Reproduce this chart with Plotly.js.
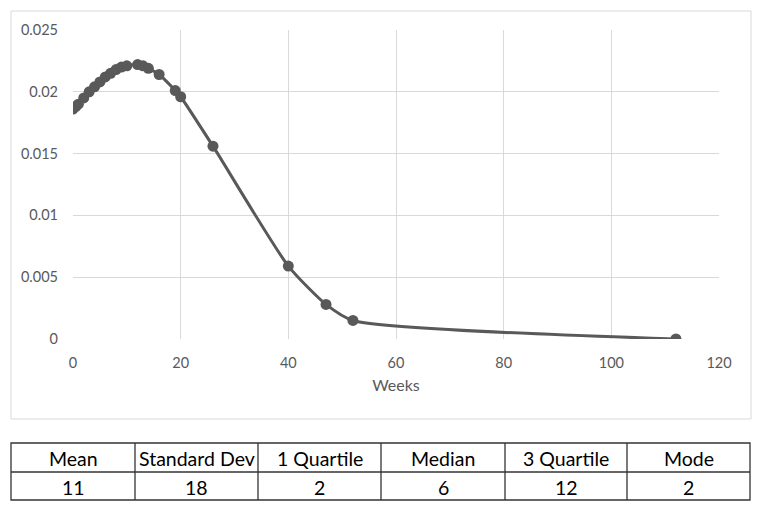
<!DOCTYPE html>
<html>
<head>
<meta charset="utf-8">
<script src="https://cdn.plot.ly/plotly-3.0.1.min.js"></script>
<style>html,body{margin:0;padding:0;background:#fff;}#chart{width:762px;height:510px;}</style>
</head>
<body>
<div id="chart"></div>
<script>
// Data
const weeks = [0, 0.5, 1, 2, 3, 4, 5, 6, 7, 8, 9, 10, 12, 13, 14, 16, 19, 20, 26, 40, 47, 52, 112];
const density = [0.0186, 0.0188, 0.0190, 0.0195, 0.0200, 0.0204, 0.0208, 0.0212, 0.0215, 0.0218, 0.0220, 0.0221, 0.0222, 0.0221, 0.0219, 0.0214, 0.0201, 0.0196, 0.0156, 0.0059, 0.0028, 0.0015, 0.0000];
const xTicks = [0, 20, 40, 60, 80, 100, 120];
const yTicks = [0, 0.005, 0.01, 0.015, 0.02, 0.025];
const yTickLabels = ['0', '0.005', '0.01', '0.015', '0.02', '0.025'];
const statNames = ['Mean', 'Standard Dev', '1 Quartile', 'Median', '3 Quartile', 'Mode'];
const statValues = ['11', '18', '2', '6', '12', '2'];

const W = 762, H = 510;
const px = v => v / W;
const py = v => 1 - v / H;

const shapes = [];
const annotations = [];
// outer chart border
shapes.push({type: 'rect', xref: 'paper', yref: 'paper', x0: px(11), x1: px(751), y0: py(11), y1: py(419),
  line: {color: '#d9d9d9', width: 1}, fillcolor: 'rgba(0,0,0,0)', layer: 'below'});

// table
const colEdges = [11, 135, 258, 381, 505, 627, 750];
const rowEdges = [443, 472, 500];
shapes.push({type: 'rect', xref: 'paper', yref: 'paper', x0: px(colEdges[0]), x1: px(colEdges[6]), y0: py(rowEdges[0]), y1: py(rowEdges[2]),
  line: {color: '#333333', width: 1.3}});
shapes.push({type: 'line', xref: 'paper', yref: 'paper', x0: px(colEdges[0]), x1: px(colEdges[6]), y0: py(rowEdges[1]), y1: py(rowEdges[1]),
  line: {color: '#333333', width: 1.3}});
for (let i = 1; i < colEdges.length - 1; i++) {
  shapes.push({type: 'line', xref: 'paper', yref: 'paper', x0: px(colEdges[i]), x1: px(colEdges[i]), y0: py(rowEdges[0]), y1: py(rowEdges[2]),
    line: {color: '#333333', width: 1.3}});
}
statNames.forEach((name, i) => {
  const cx = (colEdges[i] + colEdges[i + 1]) / 2;
  annotations.push({xref: 'paper', yref: 'paper', x: px(cx), y: py((rowEdges[0] + rowEdges[1]) / 2 + 1), text: name,
    showarrow: false, xanchor: 'center', yanchor: 'middle', font: {family: 'Lato, sans-serif', size: 19.5, color: '#000'}});
  annotations.push({xref: 'paper', yref: 'paper', x: px(cx), y: py((rowEdges[1] + rowEdges[2]) / 2 + 1), text: statValues[i],
    showarrow: false, xanchor: 'center', yanchor: 'middle', font: {family: 'Lato, sans-serif', size: 19.5, color: '#000'}});
});

const trace = {
  x: weeks, y: density, type: 'scatter', mode: 'lines+markers',
  line: {color: '#595959', width: 3, shape: 'spline', smoothing: 0.6},
  marker: {color: '#595959', size: 11},
  hoverinfo: 'skip', showlegend: false
};

const layout = {
  width: W, height: H,
  margin: {l: 0, r: 0, t: 0, b: 0},
  paper_bgcolor: '#ffffff', plot_bgcolor: '#ffffff',
  font: {family: 'Lato, sans-serif', color: '#595959', size: 14.5},
  xaxis: {
    domain: [px(73), px(719)], range: [0, 120], tickvals: xTicks, ticktext: xTicks.map(String),
    showgrid: true, gridcolor: '#d9d9d9', gridwidth: 1, zeroline: false, showline: false,
    ticks: '', ticklen: 0, tickfont: {size: 14.5, color: '#595959'}, ticklabelstandoff: 13,
    title: {text: 'Weeks', font: {size: 16, color: '#595959'}, standoff: 10}
  },
  yaxis: {
    domain: [py(339), py(30)], range: [0, 0.025], tickvals: yTicks, ticktext: yTickLabels,
    showgrid: true, gridcolor: '#d9d9d9', gridwidth: 1, zeroline: false, showline: false,
    ticks: '', tickfont: {size: 14.5, color: '#595959'}, ticklabelstandoff: 14
  },
  shapes: shapes,
  annotations: annotations
};

Plotly.newPlot('chart', [trace], layout, {displayModeBar: false, staticPlot: true});
</script>
</body>
</html>
